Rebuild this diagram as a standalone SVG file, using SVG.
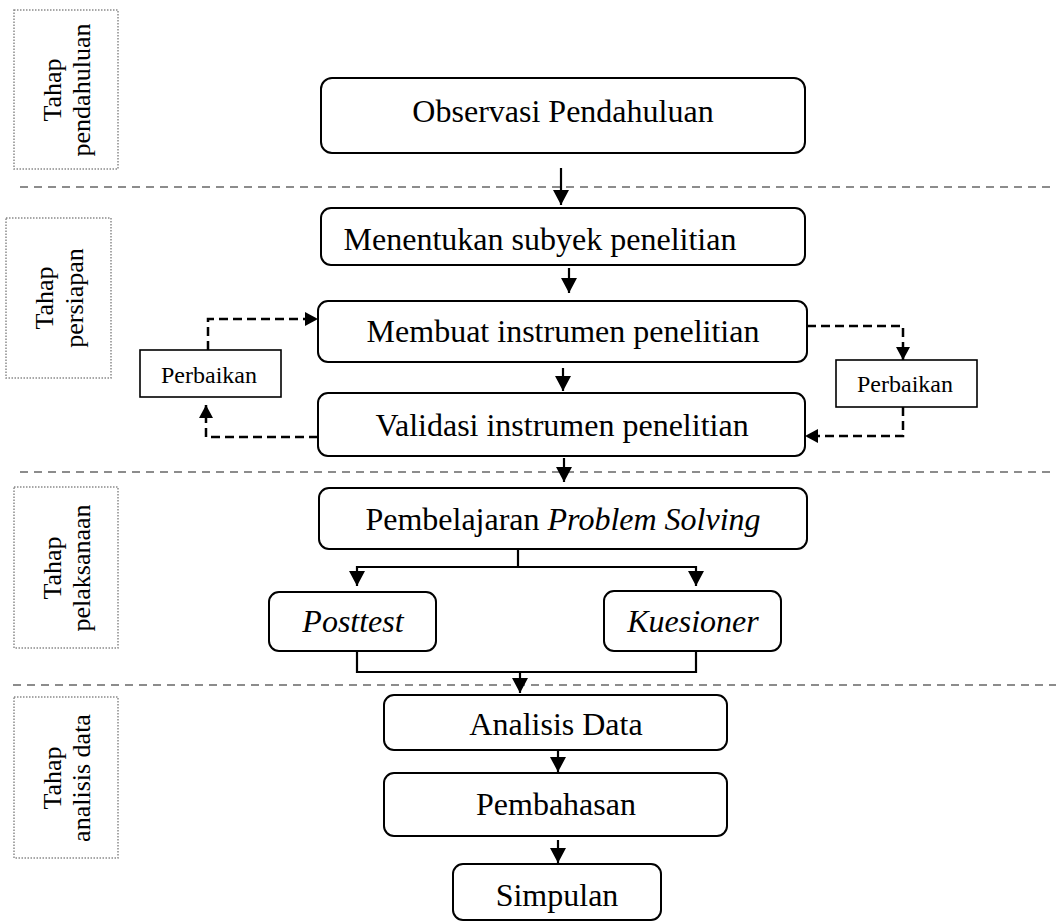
<svg xmlns="http://www.w3.org/2000/svg" width="1056" height="923" viewBox="0 0 1056 923">
<defs>
<style>
.bg{fill:#ffffff}
.phase{fill:none;stroke:#8a8a8a;stroke-width:1.5;stroke-dasharray:1.5 1.5}
.sep{fill:none;stroke:#8c8c8c;stroke-width:2;stroke-dasharray:8 6}
.node{fill:#ffffff;stroke:#000;stroke-width:2}
.sq{fill:#ffffff;stroke:#000;stroke-width:1.6}
.t{font-family:"Liberation Serif","Times New Roman",serif;font-size:32px;fill:#000;text-anchor:middle}
.it{font-style:italic}
.pt{font-family:"Liberation Serif","Times New Roman",serif;font-size:26px;fill:#000;text-anchor:middle}
.st{font-family:"Liberation Serif","Times New Roman",serif;font-size:24px;fill:#000;text-anchor:middle}
.c{fill:none;stroke:#000;stroke-width:2.2}
.d{fill:none;stroke:#000;stroke-width:2.5;stroke-dasharray:9 5}
</style>
<marker id="ah" viewBox="0 0 15 16" refX="15" refY="8" markerWidth="15" markerHeight="16" markerUnits="userSpaceOnUse" orient="auto">
<path d="M0,0 L15,8 L0,16 z" fill="#000"/>
</marker>
<marker id="ahd" viewBox="0 0 13 14" refX="13" refY="7" markerWidth="13" markerHeight="14" markerUnits="userSpaceOnUse" orient="auto">
<path d="M0,0 L13,7 L0,14 z" fill="#000"/>
</marker>
</defs>
<rect class="bg" x="0" y="0" width="1056" height="923"/>

<g id="phases">
<g id="phase-pendahuluan">
<rect class="phase" x="14" y="10" width="104" height="159"/>
<text class="pt" transform="translate(61,90) rotate(-90)">Tahap</text>
<text class="pt" transform="translate(90,90) rotate(-90)">pendahuluan</text>
</g>
<g id="phase-persiapan">
<rect class="phase" x="6" y="218" width="105" height="160"/>
<text class="pt" transform="translate(53,298) rotate(-90)">Tahap</text>
<text class="pt" transform="translate(83,298) rotate(-90)">persiapan</text>
</g>
<g id="phase-pelaksanaan">
<rect class="phase" x="14" y="487" width="104" height="161"/>
<text class="pt" transform="translate(61,568) rotate(-90)">Tahap</text>
<text class="pt" transform="translate(90,568) rotate(-90)">pelaksanaan</text>
</g>
<g id="phase-analisis">
<rect class="phase" x="14" y="697" width="104" height="161"/>
<text class="pt" transform="translate(61,778) rotate(-90)">Tahap</text>
<text class="pt" transform="translate(90,778) rotate(-90)">analisis data</text>
</g>
</g>

<g id="separators">
<line class="sep" x1="20" y1="187" x2="1056" y2="187"/>
<line class="sep" x1="20" y1="472" x2="1056" y2="472"/>
<line class="sep" x1="13" y1="685" x2="1056" y2="685"/>
</g>

<g id="connectors">
<line class="c" x1="561" y1="168" x2="561" y2="205" marker-end="url(#ah)"/>
<line class="c" x1="569" y1="268" x2="569" y2="293" marker-end="url(#ah)"/>
<line class="c" x1="563" y1="368" x2="563" y2="391" marker-end="url(#ah)"/>
<line class="c" x1="564" y1="458" x2="564" y2="482" marker-end="url(#ah)"/>
<polyline class="c" points="518,549 518,567 357,567 357,586" marker-end="url(#ah)"/>
<polyline class="c" points="518,567 696,567 696,586" marker-end="url(#ah)"/>
<polyline class="c" points="357,651 357,672 696,672 696,651"/>
<line class="c" x1="520" y1="672" x2="520" y2="693" marker-end="url(#ah)"/>
<line class="c" x1="558" y1="750" x2="558" y2="772" marker-end="url(#ah)"/>
<line class="c" x1="558" y1="840" x2="558" y2="863" marker-end="url(#ah)"/>
<polyline class="d" points="318,437 206,437 206,405" marker-end="url(#ahd)"/>
<polyline class="d" points="208,350 208,319 318,319" marker-end="url(#ahd)"/>
<polyline class="d" points="807,326 903,326 903,360" marker-end="url(#ahd)"/>
<polyline class="d" points="903,407 903,436 805,436" marker-end="url(#ahd)"/>
</g>

<g id="n-observasi">
<rect class="node" x="321" y="78" width="484" height="75" rx="11"/>
<text class="t" x="563" y="122">Observasi Pendahuluan</text>
</g>
<g id="n-menentukan">
<rect class="node" x="321" y="208" width="484" height="57" rx="10"/>
<text class="t" x="540" y="250">Menentukan subyek penelitian</text>
</g>
<g id="n-membuat">
<rect class="node" x="318" y="301" width="489" height="61" rx="10"/>
<text class="t" x="563" y="342">Membuat instrumen penelitian</text>
</g>
<g id="n-validasi">
<rect class="node" x="318" y="393" width="487" height="63" rx="10"/>
<text class="t" x="562" y="436">Validasi instrumen penelitian</text>
</g>
<g id="n-perbaikan-kiri">
<rect class="sq" x="140" y="350" width="141" height="47"/>
<text class="st" x="209" y="383">Perbaikan</text>
</g>
<g id="n-perbaikan-kanan">
<rect class="sq" x="836" y="360" width="141" height="47"/>
<text class="st" x="905" y="392">Perbaikan</text>
</g>
<g id="n-pembelajaran">
<rect class="node" x="319" y="488" width="488" height="61" rx="10"/>
<text class="t" x="563" y="530">Pembelajaran <tspan class="it">Problem Solving</tspan></text>
</g>
<g id="n-posttest">
<rect class="node" x="269" y="592" width="167" height="59" rx="10"/>
<text class="t it" x="353" y="632">Posttest</text>
</g>
<g id="n-kuesioner">
<rect class="node" x="604" y="591" width="177" height="60" rx="10"/>
<text class="t it" x="693" y="632">Kuesioner</text>
</g>
<g id="n-analisis">
<rect class="node" x="384" y="695" width="343" height="55" rx="10"/>
<text class="t" x="556" y="735">Analisis Data</text>
</g>
<g id="n-pembahasan">
<rect class="node" x="384" y="773" width="343" height="63" rx="10"/>
<text class="t" x="556" y="815">Pembahasan</text>
</g>
<g id="n-simpulan">
<rect class="node" x="453" y="864" width="208" height="56" rx="10"/>
<text class="t" x="557" y="906">Simpulan</text>
</g>
</svg>
